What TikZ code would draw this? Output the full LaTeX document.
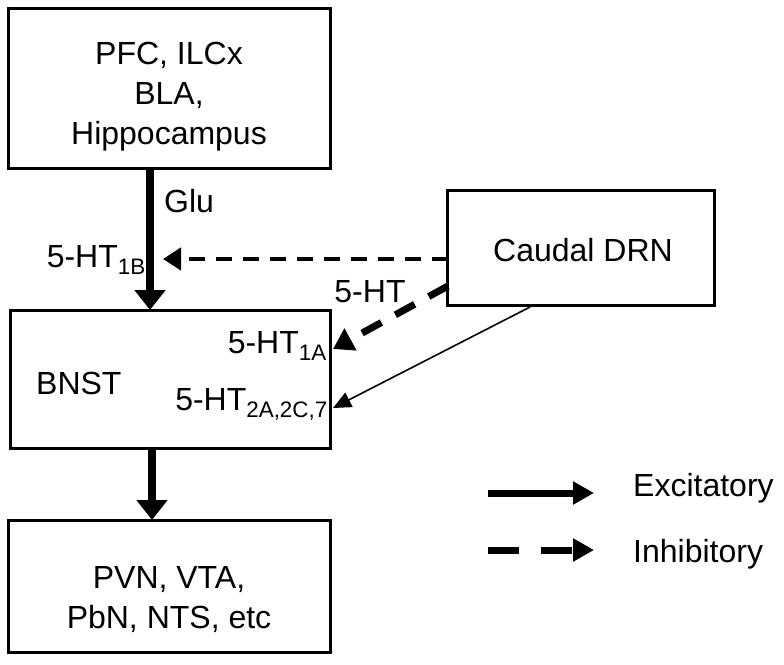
\documentclass[tikz,border=0pt]{standalone}
\usepackage{fontspec}
\setmainfont{Liberation Sans}
\usetikzlibrary{arrows.meta}
\begin{document}
\begin{tikzpicture}[x=1pt,y=-1pt,
  box/.style={draw,line width=3pt,inner sep=0pt},
  lbl/.style={font=\fontsize{32}{40}\selectfont,inner sep=0pt},
  exc/.style={line width=8pt,-{Triangle[length=20pt,width=30pt]}},
  inh/.style={line width=4.5pt,dash pattern=on 16pt off 11pt,-{Triangle[length=18pt,width=22pt]}},
  inhd/.style={line width=7pt,dash pattern=on 22pt off 16pt,-{Triangle[length=20pt,width=24pt]}},
  thin/.style={line width=1.6pt,-{Triangle[length=18pt,width=16pt]}}]
\useasboundingbox (0,0) rectangle (784,664);
\node[box,minimum width=322pt,minimum height=160pt] (top) at (169,88) {};
\node[lbl,align=center] (toptext) at (169,97) {PFC, ILCx\\BLA,\\Hippocampus};
\node[box,minimum width=320pt,minimum height=138pt] (bnst) at (170,379) {};
\node[box,minimum width=322pt,minimum height=132pt] (out) at (169,586) {};
\node[lbl,align=center] (outtext) at (169,600) {PVN, VTA,\\PbN, NTS, etc};
\node[box,minimum width=267pt,minimum height=115pt] (drn) at (581,247.5) {};
\node[lbl] (drntext) at (583,250) {Caudal DRN};
\node[lbl,anchor=west] (bnsttext) at (36,383) {BNST};
\node[lbl,anchor=west] (glu) at (164,201) {Glu};
\node[lbl,anchor=east] (ht1b) at (146,260) {5-HT\textsubscript{1B}};
\node[lbl] (ht) at (370,292) {5-HT};
\node[lbl,anchor=east] (ht1a) at (327,346) {5-HT\textsubscript{1A}};
\node[lbl,anchor=east] (ht2) at (328,404) {5-HT\textsubscript{2A,2C,7}};
\coordinate (gstart) at (150,168);
\coordinate (gend) at (150,310);
\coordinate (bstart) at (152,448);
\coordinate (bend) at (152,520);
\coordinate (hstart) at (448,259);
\coordinate (hend) at (163,259);
\coordinate (dstart) at (448,286);
\coordinate (dend) at (333,349);
\coordinate (tstart) at (530,307);
\coordinate (tend) at (333,408);
\draw[exc] (gstart) -- (gend);
\draw[exc] (bstart) -- (bend);
\draw[inh] (hstart) -- (hend);
\draw[inhd] (dstart) -- (dend);
\draw[thin] (tstart) -- (tend);
% legend
\coordinate (l1a) at (488,493);
\coordinate (l1b) at (594,493);
\coordinate (l2a) at (488,550);
\coordinate (l2b) at (594,550);
\draw[exc,line width=7pt,-{Triangle[length=21pt,width=22pt]}] (l1a) -- (l1b);
\draw[exc,line width=7pt,dash pattern=on 31pt off 22pt,-{Triangle[length=21pt,width=22pt]}] (l2a) -- (l2b);
\node[lbl,anchor=west] (excl) at (633,488) {Excitatory};
\node[lbl,anchor=west] (inhl) at (633,554) {Inhibitory};
\end{tikzpicture}
\end{document}
